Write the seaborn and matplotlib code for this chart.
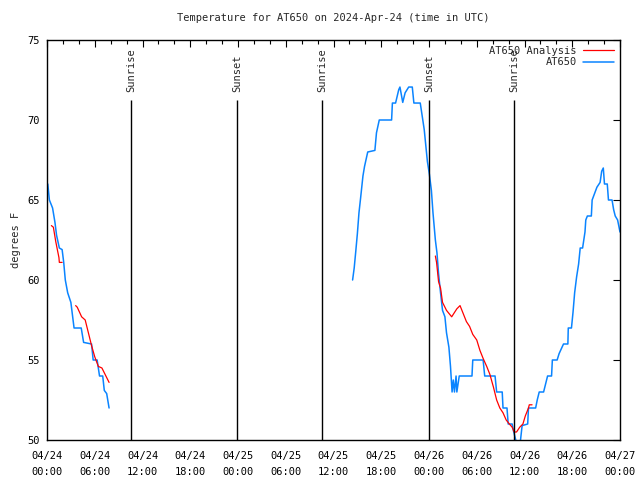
import pandas as pd
import numpy as np
import matplotlib.pyplot as plt
import matplotlib.dates as mdates
import seaborn as sns

sns.set_style("white")
plt.rcParams['font.family'] = ['DejaVu Sans Mono', 'DejaVu Sans']

# start of the plot (UTC)
t0 = pd.Timestamp("2024-04-24 00:00")

# AT650 observations: hours after t0 and temperature (F), two pieces with a gap
obs1_hours = [0.1, 0.3, 0.7, 1.0, 1.2, 1.55, 1.9, 2.1, 2.3, 2.6, 3.0, 3.2, 3.4, 4.3, 4.6,
              5.6, 5.8, 6.3, 6.6, 7.0, 7.2, 7.5, 7.8]
obs1_temp = [66.0, 65.0, 64.5, 63.6, 62.8, 62.0, 61.9, 61.1, 60.0, 59.2, 58.6, 57.8, 57.0, 57.0, 56.1,
             56.0, 55.0, 55.0, 54.0, 54.0, 53.1, 52.9, 52.0]

obs2_hours = [38.4, 38.6, 38.8, 39.0, 39.2, 39.4, 39.7, 39.9, 40.3, 41.2, 41.4, 41.75, 43.3, 43.4,
              43.8, 44.2, 44.35, 44.7, 45.0, 45.45, 45.9, 46.1, 46.9, 47.1, 47.4, 47.6, 47.8,
              48.05, 48.3, 48.5, 48.8, 49.0, 49.2, 49.45, 49.7, 50.0, 50.2, 50.5, 50.7, 50.9,
              51.05, 51.2, 51.4, 51.5, 51.8, 53.4, 53.5, 54.8, 55.0, 56.3, 56.5, 57.2, 57.3,
              57.8, 57.95, 58.45, 58.6, 58.9, 59.2, 59.5, 59.7, 60.4, 60.5, 61.4, 61.6, 61.85,
              62.4, 62.6, 62.9, 63.4, 63.5, 64.1, 64.35, 64.9, 65.45, 65.5, 65.9, 66.1, 66.3,
              66.55, 66.8, 67.0, 67.3, 67.6, 67.7, 67.9, 68.4, 68.5, 68.8, 69.1, 69.5, 69.7,
              69.9, 70.05, 70.4, 70.55, 71.0, 71.2, 71.4, 71.7, 72.0]
obs2_temp = [60.0, 60.75, 61.8, 62.9, 64.2, 65.1, 66.5, 67.1, 68.0, 68.1, 69.2, 70.0, 70.0, 71.06,
             71.06, 71.9, 72.06, 71.1, 71.7, 72.06, 72.06, 71.06, 71.06, 70.4, 69.4, 68.4, 67.4,
             66.6, 65.6, 64.2, 62.5, 61.7, 60.4, 59.2, 58.1, 57.7, 56.7, 55.8, 54.6, 53.0,
             53.75, 53.0, 54.0, 53.0, 54.0, 54.0, 55.0, 55.0, 54.0, 54.0, 53.0, 53.0, 52.0,
             52.0, 51.0, 51.0, 50.6, 50.0, 49.5, 50.0, 50.9, 51.0, 52.0, 52.0, 52.5, 53.0,
             53.0, 53.4, 54.0, 54.0, 55.0, 55.0, 55.4, 56.0, 56.0, 57.0, 57.0, 58.0, 59.2,
             60.2, 61.0, 62.0, 62.0, 63.0, 63.75, 64.0, 64.0, 65.0, 65.4, 65.8, 66.1, 66.8,
             67.0, 66.0, 66.0, 65.0, 65.0, 64.4, 64.0, 63.75, 63.0]

# AT650 Analysis: three pieces
ana1_hours = [0.55, 0.8, 1.1, 1.5, 1.55, 1.9]
ana1_temp = [63.4, 63.3, 62.4, 61.4, 61.1, 61.1]

ana2_hours = [3.6, 3.8, 4.35, 4.8, 5.2, 5.6, 6.0, 6.45, 6.9, 7.5, 7.8]
ana2_temp = [58.4, 58.3, 57.7, 57.5, 56.7, 55.9, 55.2, 54.6, 54.5, 53.9, 53.6]

ana3_hours = [48.8, 48.95, 49.2, 49.45, 49.7, 50.2, 50.85, 51.5, 51.9, 52.3, 52.7, 53.1, 53.5,
              54.0, 54.4, 54.8, 55.25, 55.65, 56.1, 56.5, 56.9, 57.3, 57.7, 58.1, 58.45, 58.7,
              59.0, 59.4, 59.8, 60.1, 60.5, 60.6, 60.95]
ana3_temp = [61.5, 61.1, 59.9, 59.5, 58.6, 58.1, 57.7, 58.2, 58.4, 57.9, 57.4, 57.1, 56.6,
             56.25, 55.6, 55.1, 54.6, 54.1, 53.3, 52.5, 52.0, 51.7, 51.25, 51.0, 50.8, 50.5,
             50.5, 50.8, 51.0, 51.5, 52.0, 52.2, 52.2]

# sunrise / sunset events (UTC)
sun_times = ["2024-04-24 10:33", "2024-04-24 23:52", "2024-04-25 10:33",
             "2024-04-26 00:01", "2024-04-26 10:42"]
sun_labels = ["Sunrise", "Sunset", "Sunrise", "Sunset", "Sunrise"]


def to_time(hours):
    return t0 + pd.to_timedelta(hours, unit="h")


fig = plt.figure(figsize=(6.4, 4.8), dpi=100)
ax = fig.add_axes([47 / 640, 40 / 480, 573 / 640, 400 / 480])

blue = "#0a84ff"
red = "#ff0000"

# observations
for i, (h, t) in enumerate([(obs1_hours, obs1_temp), (obs2_hours, obs2_temp)]):
    sns.lineplot(x=to_time(h), y=t, ax=ax, color=blue, linewidth=1.1, sort=False,
                 estimator=None, label="AT650" if i == 0 else None)

# analysis
for i, (h, t) in enumerate([(ana1_hours, ana1_temp), (ana2_hours, ana2_temp),
                            (ana3_hours, ana3_temp)]):
    sns.lineplot(x=to_time(h), y=t, ax=ax, color=red, linewidth=0.9, sort=False,
                 estimator=None, label="AT650 Analysis" if i == 0 else None)

# sunrise / sunset markers
for st, lab in zip(sun_times, sun_labels):
    ts = pd.Timestamp(st)
    ax.vlines(ts, 50, 71.25, color="black", linewidth=1.0)
    ax.text(ts, 71.75, lab, rotation=90, ha="center", va="bottom", fontsize=7.5)

ax.set_xlim(t0, t0 + pd.Timedelta(hours=72))
ax.set_ylim(50, 75)
ax.set_yticks(np.arange(50, 76, 5))

ax.xaxis.set_major_locator(mdates.HourLocator(byhour=[0, 6, 12, 18]))
ax.xaxis.set_minor_locator(mdates.HourLocator(interval=2))
ax.xaxis.set_major_formatter(mdates.DateFormatter("%m/%d\n%H:%M"))

ax.tick_params(axis="both", which="both", direction="in", top=True, right=True,
               labelsize=7.5, colors="black")
ax.tick_params(which="major", length=5, width=0.8)
ax.tick_params(which="minor", length=3, width=0.8)
ax.tick_params(axis="x", pad=8)
ax.tick_params(axis="y", pad=5)
fig.canvas.draw()
plt.setp(ax.get_xticklabels(), linespacing=1.75)
for sp in ax.spines.values():
    sp.set_color("black")
    sp.set_linewidth(1.0)

ax.set_xlabel("")
ax.set_ylabel("degrees F", fontsize=7.5, labelpad=5)
ax.set_title("Temperature for AT650 on 2024-Apr-24 (time in UTC)", fontsize=7.5, pad=14)

# legend: analysis first, labels left of the line samples
handles, labels = ax.get_legend_handles_labels()
order = [labels.index("AT650 Analysis"), labels.index("AT650")]
ax.legend([handles[i] for i in order], [labels[i] for i in order], loc="upper right",
          frameon=False, markerfirst=False, fontsize=7.5, handlelength=3.0,
          borderaxespad=0.15, labelspacing=0.15, handletextpad=0.6)

plt.savefig("out.png", dpi=100)
